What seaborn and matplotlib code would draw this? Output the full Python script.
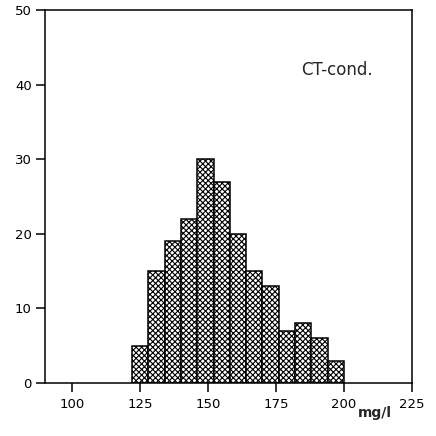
import numpy as np
import pandas as pd
import matplotlib
matplotlib.use("Agg")
import matplotlib.pyplot as plt
import seaborn as sns

# Data (bins of width 6 mg/l)
bin_edges = [122, 128, 134, 140, 146, 152, 158, 164, 170, 176, 182, 188, 194, 200]
counts = [5, 15, 19, 22, 30, 27, 20, 15, 13, 7, 8, 6, 3]
x_ticks = [100, 125, 150, 175, 200, 225]
y_ticks = [0, 10, 20, 30, 40, 50]

centers = [(a + b) / 2 for a, b in zip(bin_edges[:-1], bin_edges[1:])]
df = pd.DataFrame({"value": centers, "count": counts})

sns.set_style("ticks")
plt.rcParams["font.family"] = ["DejaVu Sans"]
plt.rcParams["hatch.linewidth"] = 0.8

fig = plt.figure(figsize=(4.36, 4.36), dpi=100)
ax = fig.add_axes([45 / 436, 1 - 383 / 436, 367 / 436, 373 / 436])

sns.histplot(data=df, x="value", weights="count", bins=bin_edges,
             color="white", edgecolor="black", linewidth=1.1, alpha=1,
             ax=ax)
for p in ax.patches:
    p.set_hatch("xxxxxx")
    p.set_facecolor("white")
    p.set_edgecolor("black")

ax.set_xlim(90, 225)
ax.set_ylim(0, 50)
ax.set_xticks(x_ticks)
ax.set_yticks(y_ticks)
ax.set_xlabel("")
ax.set_ylabel("")
for s in ax.spines.values():
    s.set_visible(True)
    s.set_color("black")
    s.set_linewidth(1.1)
ax.tick_params(axis="both", direction="out", length=6.5, width=1.1,
               labelsize=9.5, color="black", labelcolor="black")
ax.tick_params(axis="x", pad=4)
ax.tick_params(axis="y", pad=3)

fig.text(375 / 436, 1 - 413 / 436, "mg/l", ha="center", va="center",
         fontsize=10, fontweight="bold")
fig.text(337 / 436, 1 - 70 / 436, "CT-cond.", ha="center", va="center",
         fontsize=12)

fig.savefig("out.png", dpi=100)
